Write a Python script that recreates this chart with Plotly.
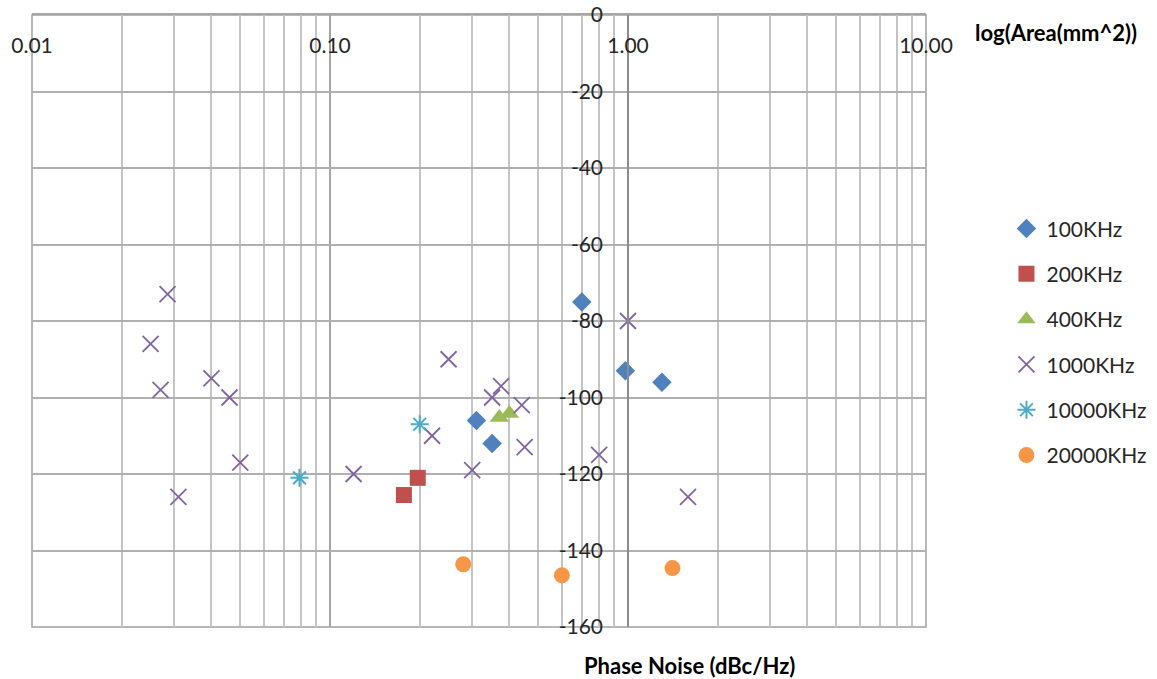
import plotly.graph_objects as go

# ---- data (x = area, log scale; y = phase noise dBc/Hz) ----
s100_x = [0.70, 0.98, 1.30, 0.31, 0.35]
s100_y = [-75, -93, -96, -106, -112]

s200_x = [0.197, 0.177]
s200_y = [-121, -125.5]

s400_x = [0.37, 0.40]
s400_y = [-105.2, -104.2]

s1000_x = [0.0285, 0.025, 0.027, 0.040, 0.046, 0.050, 0.12, 0.031,
           0.25, 0.35, 0.375, 0.44, 0.22, 0.45, 0.30, 0.80, 1.00, 1.59]
s1000_y = [-73, -86, -98, -95, -100, -117, -120, -126,
           -90, -100, -97, -102, -110, -113, -119, -115, -80, -126]

s10000_x = [0.079, 0.20]
s10000_y = [-121, -107]

s20000_x = [0.28, 0.60, 1.41]
s20000_y = [-143.6, -146.5, -144.6]

x_tickvals = [0.01, 0.1, 1, 10]
x_ticktext = ["0.01", "0.10", "1.00", "10.00"]
y_tickvals = [0, -20, -40, -60, -80, -100, -120, -140, -160]
y_ticktext = ["0", "-20", "-40", "-60", "-80", "-100", "-120", "-140", "-160"]

FONT = "Lato"
TXT = "#262626"

series = [
    ("100KHz", s100_x, s100_y, dict(symbol="diamond", size=15, color="#4F81BD")),
    ("200KHz", s200_x, s200_y, dict(symbol="square", size=16, color="#C0504D")),
    ("400KHz", s400_x, s400_y, dict(symbol="triangle-up", size=17, color="#9BBB59")),
    ("1000KHz", s1000_x, s1000_y, dict(symbol="x-thin-open", size=16, color="#8064A2",
                                        line=dict(width=1.8, color="#8064A2"))),
    ("10000KHz", s10000_x, s10000_y, dict(symbol="asterisk-open", size=15, color="#4BACC6",
                                          line=dict(width=2, color="#4BACC6"))),
    ("20000KHz", s20000_x, s20000_y, dict(symbol="circle", size=16, color="#F79646")),
]

fig = go.Figure()
for name, xs, ys, mk in series:
    fig.add_trace(go.Scatter(x=xs, y=ys, mode="markers", name=name,
                             legendgroup=name, marker=mk, cliponaxis=False))

minor_vals = [m * 10 ** e for e in (-2, -1, 0) for m in range(2, 10)]

fig.update_layout(
    width=1157, height=679,
    margin=dict(l=32, r=231, t=15, b=52, autoexpand=False),
    paper_bgcolor="white", plot_bgcolor="white",
    font=dict(family=FONT, size=21, color=TXT),
    showlegend=True,
    legend=dict(x=1.09, xanchor="left", y=0.684, yanchor="top",
                tracegroupgap=15, font=dict(family=FONT, size=21, color=TXT),
                bgcolor="rgba(0,0,0,0)"),
    xaxis=dict(type="log", range=[-2, 1], side="top",
               tickvals=x_tickvals, ticktext=x_ticktext,
               ticklabelposition="inside", ticklabeloverflow="allow",
               ticklabelstandoff=25, ticks="",
               showgrid=True, gridcolor="#A6A6A6", gridwidth=1.5,
               minor=dict(tickvals=minor_vals, showgrid=True,
                          gridcolor="#C4C4C4", gridwidth=1.5),
               showline=True, linecolor="#A6A6A6", linewidth=1.5,
               zeroline=False, tickfont=dict(size=21, color=TXT)),
    yaxis=dict(range=[-160, 0], anchor="free", position=2 / 3, side="left",
               tickvals=y_tickvals, ticktext=y_ticktext, ticks="",
               ticklabelstandoff=20,
               showgrid=True, gridcolor="#B0B0B0", gridwidth=1.5,
               showline=True, linecolor="#8C8C8C", linewidth=1.5,
               zeroline=False, tickfont=dict(size=21, color=TXT)),
    shapes=[dict(type="rect", xref="paper", yref="paper", x0=0, x1=1, y0=0, y1=1,
                 line=dict(color="#A0A0A0", width=1.5), layer="below")],
    annotations=[
        dict(text="<b>log(Area(mm^2))</b>", xref="paper", yref="paper",
             x=1.1449, y=0.9706, xanchor="center", yanchor="middle",
             showarrow=False, font=dict(family=FONT, size=22, color="black")),
        dict(text="<b>Phase Noise (dBc/Hz)</b>", xref="paper", yref="paper",
             x=0.736, y=-0.0637, xanchor="center", yanchor="middle",
             showarrow=False, font=dict(family=FONT, size=22, color="black")),
    ],
)

fig.write_html("out.html")
